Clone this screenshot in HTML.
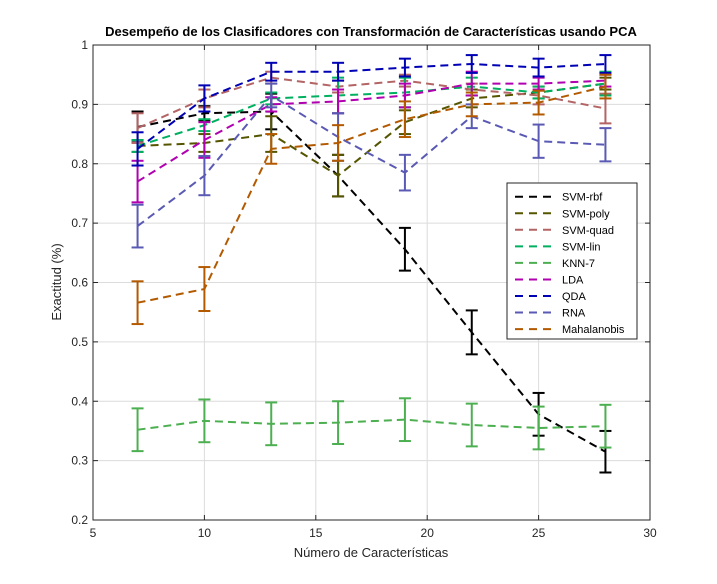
<!DOCTYPE html>
<html><head><meta charset="utf-8"><style>
html,body{margin:0;padding:0;background:#fff;}
svg{display:block;font-family:"Liberation Sans",sans-serif;}
</style></head><body>
<svg id="chart" width="717" height="584" xmlns="http://www.w3.org/2000/svg"></svg>
<script>
const xs = [7,10,13,16,19,22,25,28];
const seriesNames = ["SVM-rbf","SVM-poly","SVM-quad","SVM-lin","KNN-7","LDA","QDA","RNA","Mahalanobis"];
const seriesColors = ["#000000","#555500","#b36464","#00b060","#4caf50","#b000b0","#0000b4","#5a5ab4","#b35a00"];
const svmRbf = [0.862,0.885,0.888,0.78,0.656,0.516,0.378,0.315];
const svmPoly = [0.83,0.835,0.85,0.78,0.87,0.91,0.92,0.935];
const svmQuad = [0.86,0.91,0.945,0.93,0.94,0.925,0.915,0.893];
const svmLin = [0.83,0.865,0.91,0.915,0.92,0.93,0.92,0.935];
const knn7 = [0.352,0.367,0.362,0.364,0.369,0.36,0.355,0.358];
const lda = [0.77,0.84,0.9,0.905,0.915,0.935,0.935,0.94];
const qda = [0.825,0.91,0.955,0.955,0.962,0.968,0.962,0.968];
const rna = [0.695,0.78,0.915,0.845,0.785,0.88,0.838,0.832];
const maha = [0.566,0.589,0.825,0.835,0.875,0.9,0.903,0.93];
const errRbf = [0.026,0.012,0.03,0.035,0.036,0.037,0.036,0.035];
const errPoly = [0.01,0.015,0.03,0.035,0.02,0.015,0.01,0.01];
const errQuad = [0.025,0.015,0.01,0.01,0.01,0.01,0.015,0.025];
const errLin = [0.01,0.01,0.01,0.03,0.025,0.015,0.01,0.02];
const errKnn = [0.036,0.036,0.036,0.036,0.036,0.036,0.036,0.036];
const errLda = [0.035,0.03,0.012,0.02,0.02,0.02,0.01,0.01];
const errQda = [0.028,0.022,0.015,0.015,0.015,0.015,0.015,0.015];
const errRna = [0.036,0.033,0.02,0.04,0.03,0.02,0.028,0.028];
const errMaha = [0.036,0.037,0.025,0.03,0.03,0.02,0.02,0.02];
const seriesVals = [svmRbf,svmPoly,svmQuad,svmLin,knn7,lda,qda,rna,maha];
const seriesErrs = [errRbf,errPoly,errQuad,errLin,errKnn,errLda,errQda,errRna,errMaha];
const xTicks = [5,10,15,20,25,30];
const yTicks = [0.2,0.3,0.4,0.5,0.6,0.7,0.8,0.9,1];

const L=93,R=650,T=45,B=520;
const xS=v=>L+(v-5)/(30-5)*(R-L);
const yS=v=>B-(v-0.2)/(1-0.2)*(B-T);
const svg=document.getElementById('chart');
const NS="http://www.w3.org/2000/svg";
function mk(tag,attrs,parent){const e=document.createElementNS(NS,tag);for(const k in attrs)e.setAttribute(k,attrs[k]);(parent||svg).appendChild(e);return e;}

const axBg=mk('rect',{x:L,y:T,width:R-L,height:B-T,fill:'#fff'});


const grid=mk('g',{stroke:'#dcdcdc','stroke-width':1});


xTicks.forEach(t=>{mk('line',{x1:xS(t),x2:xS(t),y1:T,y2:B},grid);});
yTicks.forEach(t=>{mk('line',{x1:L,x2:R,y1:yS(t),y2:yS(t)},grid);});

const xtg=mk('g',{'font-size':12,fill:'#262626','text-anchor':'middle'});


xTicks.forEach(t=>{const tx=mk('text',{x:xS(t),y:B+17},xtg);tx.textContent=t;
mk('line',{x1:xS(t),x2:xS(t),y1:B,y2:B-5,stroke:'#262626'},svg);mk('line',{x1:xS(t),x2:xS(t),y1:T,y2:T+5,stroke:'#262626'},svg);});
const ytg=mk('g',{'font-size':12,fill:'#262626','text-anchor':'end'});


yTicks.forEach(t=>{const tx=mk('text',{x:L-5,y:yS(t)+4},ytg);tx.textContent=(t===1?'1':t.toFixed(1));
mk('line',{x1:L,x2:L+5,y1:yS(t),y2:yS(t),stroke:'#262626'},svg);mk('line',{x1:R,x2:R-5,y1:yS(t),y2:yS(t),stroke:'#262626'},svg);});

seriesVals.forEach((vals,si)=>{
  const g=mk('g',{});
  
  
  const c=seriesColors[si];
  const pts=vals.map((v,i)=>xS(xs[i])+','+yS(v)).join(' ');
  mk('polyline',{points:pts,fill:'none',stroke:c,'stroke-width':2,'stroke-dasharray':'8,5'},g);
  vals.forEach((v,i)=>{
    const x=xS(xs[i]),e=seriesErrs[si][i],y1=yS(v+e),y2=yS(v-e);
    const eb=mk('g',{stroke:c,'stroke-width':2,fill:'none'},g);
    
    
    mk('line',{x1:x,x2:x,y1:y1,y2:y2},eb);
    mk('line',{x1:x-6,x2:x+6,y1:y1,y2:y1},eb);
    mk('line',{x1:x-6,x2:x+6,y1:y2,y2:y2},eb);
  });
});

const frame=mk('rect',{x:L,y:T,width:R-L,height:B-T,fill:'none',stroke:'#262626','stroke-width':1});



const lg=mk('g',{});


mk('rect',{x:507,y:183,width:130,height:156,fill:'#fff',stroke:'#262626','stroke-width':1},lg);
seriesNames.forEach((n,i)=>{
  const y=196.7+i*16.55;
  const en=mk('g',{},lg);
  
  
  mk('line',{x1:515,x2:555,y1:y,y2:y,stroke:seriesColors[i],'stroke-width':2,'stroke-dasharray':'8,6'},en);
  const t=mk('text',{x:562,y:y+4,'font-size':11,fill:'#000'},en);t.textContent=n;
});

const title=mk('text',{x:371,y:36,'font-size':13,'font-weight':'bold','text-anchor':'middle',fill:'#000'});
title.textContent='Desempeño de los Clasificadores con Transformación de Características usando PCA';


const xl=mk('text',{x:371,y:557,'font-size':13,'text-anchor':'middle',fill:'#262626'});
xl.textContent='Número de Características';


const yl=mk('text',{x:0,y:0,'font-size':13,'text-anchor':'middle',fill:'#262626',transform:'translate(61,282) rotate(-90)'});
yl.textContent='Exactitud (%)';


</script>
</body></html>
